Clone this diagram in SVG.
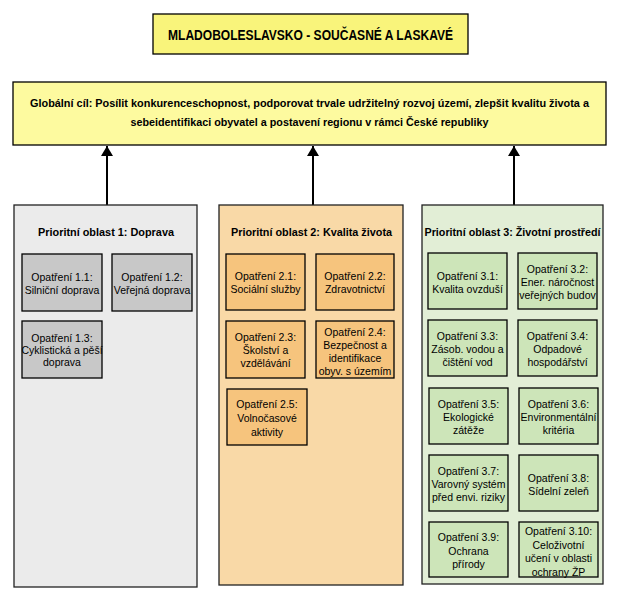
<svg xmlns="http://www.w3.org/2000/svg" width="621" height="600" viewBox="0 0 621 600">
<style>
text{font-family:"Liberation Sans",Arial,sans-serif;fill:#000;text-anchor:middle}
.t{font-size:10.5px}
.b{font-weight:bold}
.box{stroke:#000;stroke-width:1.3}
.p1{fill:#ebebeb;stroke:#222;stroke-width:1.3}
.p2{fill:#f9d9a7;stroke:#222;stroke-width:1.3}
.p3{fill:#e2eed6;stroke:#222;stroke-width:1.3}
.g1{fill:#c8c8c8}
.g2{fill:#f6c47d}
.g3{fill:#cde5b9}
.conn{stroke:#000;stroke-width:2;fill:none;marker-end:url(#ah)}
</style>
<defs>
<marker id="ah" markerUnits="userSpaceOnUse" markerWidth="10" markerHeight="12" viewBox="0 0 10 12" refX="10" refY="6" orient="auto">
<path d="M0,0 L10,6 L0,12 z" fill="#000"/>
</marker>
</defs>
<rect width="621" height="600" fill="#fff"/>

<g id="title">
<rect x="153" y="14" width="315" height="40" fill="#f9f47b" stroke="#000" stroke-width="1.3"/>
<text x="310.5" y="40" class="b" font-size="14.5" textLength="285" lengthAdjust="spacingAndGlyphs">MLADOBOLESLAVSKO - SOUČASNÉ A LASKAVÉ</text>
</g>

<g id="global">
<rect x="13" y="82" width="593" height="63" fill="#fdfa9f" stroke="#000" stroke-width="1.3"/>
<text x="309.5" y="107" class="b" font-size="11.5" textLength="559" lengthAdjust="spacingAndGlyphs">Globální cíl: Posílit konkurenceschopnost, podporovat trvale udržitelný rozvoj území, zlepšit kvalitu života a</text>
<text x="309.5" y="126" class="b" font-size="11.5" textLength="358" lengthAdjust="spacingAndGlyphs">sebeidentifikaci obyvatel a postavení regionu v rámci České republiky</text>
</g>

<g id="connectors">
<line class="conn" x1="107" y1="205" x2="107" y2="146"/>
<line class="conn" x1="313" y1="205" x2="313" y2="146"/>
<line class="conn" x1="514" y1="205" x2="514" y2="146"/>
</g>

<g id="panel1">
<rect class="p1" x="14" y="205" width="183" height="382"/>
<text x="106" y="236" class="b" font-size="11.5" textLength="136" lengthAdjust="spacingAndGlyphs">Prioritní oblast 1: Doprava</text>
</g>
<g id="o1_1"><rect class="box g1" x="22" y="254" width="80" height="57"/><text class="t"><tspan x="62" y="281">Opatření 1.1:</tspan><tspan x="62" y="294">Silniční doprava</tspan></text></g>
<g id="o1_2"><rect class="box g1" x="112" y="254" width="80" height="57"/><text class="t"><tspan x="152" y="281">Opatření 1.2:</tspan><tspan x="152" y="294">Veřejná doprava</tspan></text></g>
<g id="o1_3"><rect class="box g1" x="22" y="321" width="80" height="57"/><text class="t"><tspan x="62" y="342">Opatření 1.3:</tspan><tspan x="62" y="354">Cyklistická a pěší</tspan><tspan x="62" y="366">doprava</tspan></text></g>

<g id="panel2">
<rect class="p2" x="219" y="205" width="184" height="380"/>
<text x="311.5" y="236" class="b" font-size="11.5" textLength="161" lengthAdjust="spacingAndGlyphs">Prioritní oblast 2: Kvalita života</text>
</g>
<g id="o2_1"><rect class="box g2" x="226" y="254" width="79" height="56"/><text class="t"><tspan x="265.5" y="280">Opatření 2.1:</tspan><tspan x="265.5" y="293">Sociální služby</tspan></text></g>
<g id="o2_2"><rect class="box g2" x="316" y="254" width="78" height="56"/><text class="t"><tspan x="355" y="280">Opatření 2.2:</tspan><tspan x="355" y="293">Zdravotnictví</tspan></text></g>
<g id="o2_3"><rect class="box g2" x="226" y="321" width="79" height="57"/><text class="t"><tspan x="265.5" y="341">Opatření 2.3:</tspan><tspan x="265.5" y="354">Školství a</tspan><tspan x="265.5" y="367">vzdělávání</tspan></text></g>
<g id="o2_4"><rect class="box g2" x="316" y="321" width="78" height="57"/><text class="t"><tspan x="355" y="336">Opatření 2.4:</tspan><tspan x="355" y="349">Bezpečnost a</tspan><tspan x="355" y="362">identifikace</tspan><tspan x="355" y="375">obyv. s územím</tspan></text></g>
<g id="o2_5"><rect class="box g2" x="227" y="389" width="80" height="56"/><text class="t"><tspan x="267" y="408">Opatření 2.5:</tspan><tspan x="267" y="422">Volnočasové</tspan><tspan x="267" y="436">aktivity</tspan></text></g>

<g id="panel3">
<rect class="p3" x="422" y="205" width="181" height="379"/>
<text x="512.5" y="236" class="b" font-size="11.5" textLength="176" lengthAdjust="spacingAndGlyphs">Prioritní oblast 3: Životní prostředí</text>
</g>
<g id="o3_1"><rect class="box g3" x="428" y="253" width="79" height="56"/><text class="t"><tspan x="467.5" y="280">Opatření 3.1:</tspan><tspan x="467.5" y="293">Kvalita ovzduší</tspan></text></g>
<g id="o3_2"><rect class="box g3" x="518" y="253" width="79" height="56"/><text class="t"><tspan x="557.5" y="273">Opatření 3.2:</tspan><tspan x="557.5" y="286">Ener. náročnost</tspan><tspan x="557.5" y="299">veřejných budov</tspan></text></g>
<g id="o3_3"><rect class="box g3" x="428" y="320" width="79" height="56"/><text class="t"><tspan x="467.5" y="340">Opatření 3.3:</tspan><tspan x="467.5" y="353">Zásob. vodou a</tspan><tspan x="467.5" y="366">čištění vod</tspan></text></g>
<g id="o3_4"><rect class="box g3" x="518" y="320" width="79" height="56"/><text class="t"><tspan x="557.5" y="340">Opatření 3.4:</tspan><tspan x="557.5" y="353">Odpadové</tspan><tspan x="557.5" y="366">hospodářství</tspan></text></g>
<g id="o3_5"><rect class="box g3" x="429" y="388" width="79" height="56"/><text class="t"><tspan x="468.5" y="408">Opatření 3.5:</tspan><tspan x="468.5" y="421">Ekologické</tspan><tspan x="468.5" y="434">zátěže</tspan></text></g>
<g id="o3_6"><rect class="box g3" x="519" y="388" width="79" height="56"/><text class="t"><tspan x="558.5" y="408">Opatření 3.6:</tspan><tspan x="558.5" y="421">Environmentální</tspan><tspan x="558.5" y="434">kritéria</tspan></text></g>
<g id="o3_7"><rect class="box g3" x="429" y="455" width="79" height="56"/><text class="t"><tspan x="468.5" y="475">Opatření 3.7:</tspan><tspan x="468.5" y="488">Varovný systém</tspan><tspan x="468.5" y="501">před envi. riziky</tspan></text></g>
<g id="o3_8"><rect class="box g3" x="519" y="455" width="79" height="56"/><text class="t"><tspan x="558.5" y="482">Opatření 3.8:</tspan><tspan x="558.5" y="495">Sídelní zeleň</tspan></text></g>
<g id="o3_9"><rect class="box g3" x="429" y="522" width="79" height="55"/><text class="t"><tspan x="468.5" y="541">Opatření 3.9:</tspan><tspan x="468.5" y="555">Ochrana</tspan><tspan x="468.5" y="568">přírody</tspan></text></g>
<g id="o3_10"><rect class="box g3" x="519" y="522" width="79" height="55"/><text class="t"><tspan x="558.5" y="535">Opatření 3.10:</tspan><tspan x="558.5" y="548.5">Celoživotní</tspan><tspan x="558.5" y="562">učení v oblasti</tspan><tspan x="558.5" y="575.5">ochrany ŽP</tspan></text></g>
</svg>
